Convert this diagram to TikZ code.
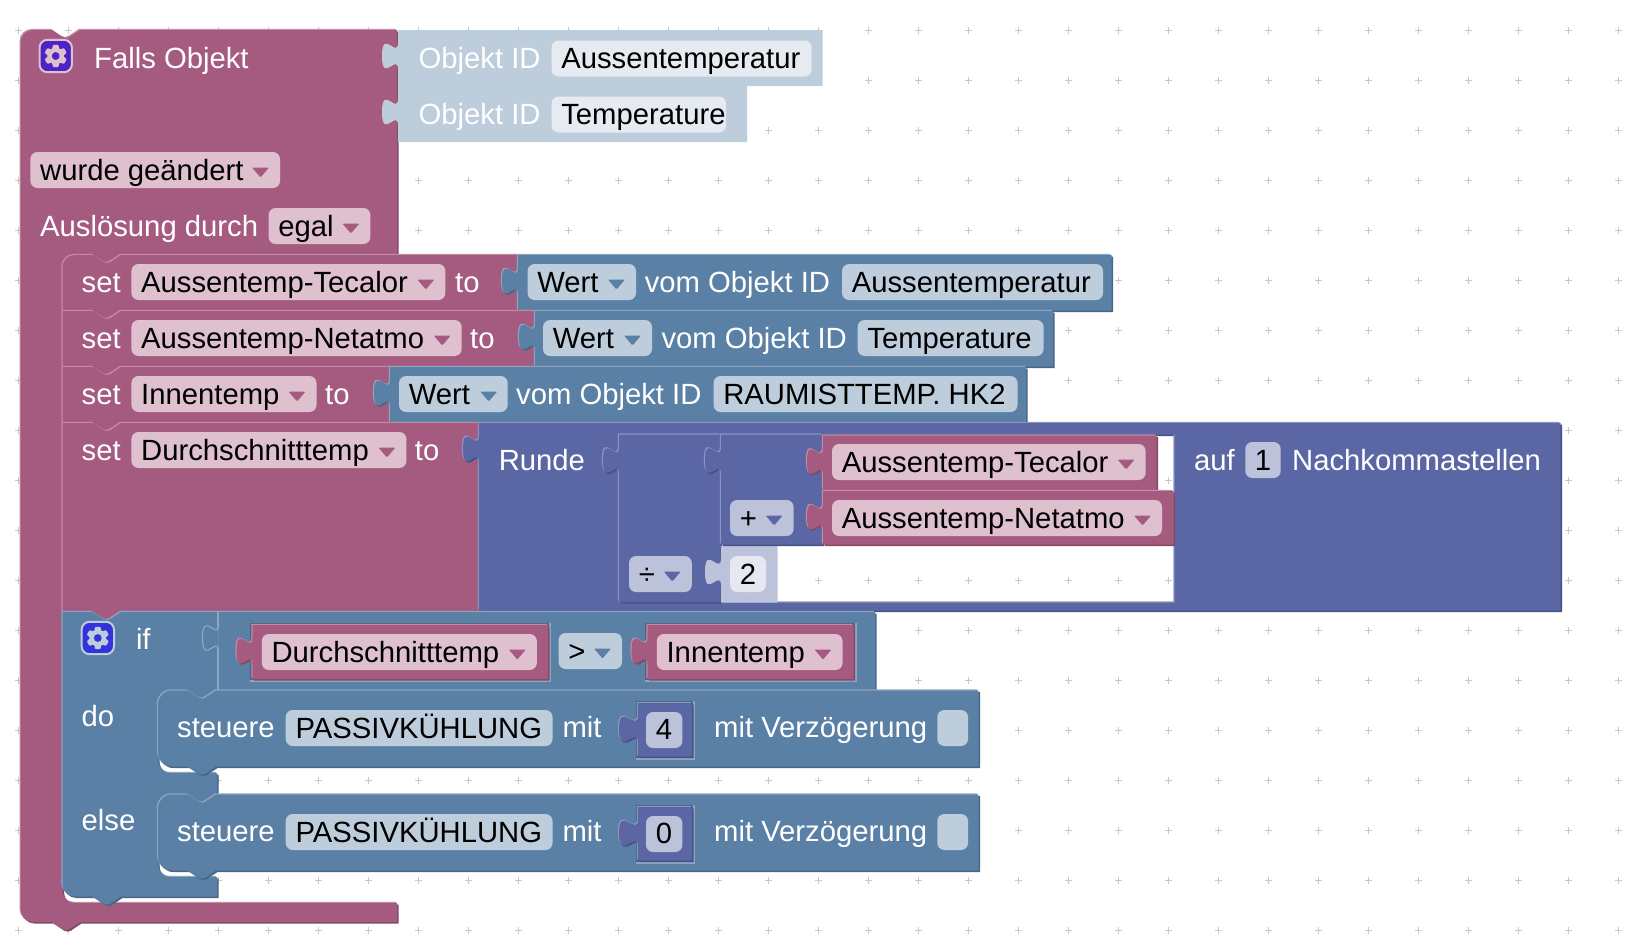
\documentclass[tikz,border=0pt]{standalone}
\usepackage{fontspec}
\setmainfont{Liberation Sans}
\definecolor{mar}{HTML}{A55B80}
\definecolor{marD}{HTML}{844966}
\definecolor{marL}{HTML}{C08CA6}
\definecolor{marF}{HTML}{DFC0CF}
\definecolor{blu}{HTML}{5B80A5}
\definecolor{bluD}{HTML}{496684}
\definecolor{bluL}{HTML}{8CA6C0}
\definecolor{bluF}{HTML}{BDCDDC}
\definecolor{bluS}{HTML}{E5EBF1}
\definecolor{ind}{HTML}{5B67A5}
\definecolor{indD}{HTML}{495284}
\definecolor{indL}{HTML}{8C95C0}
\definecolor{indF}{HTML}{BDC2DB}
\definecolor{indS}{HTML}{E5E7F1}
\definecolor{gridc}{HTML}{C8C8C8}
\definecolor{icA}{HTML}{4F22C8}
\definecolor{icB}{HTML}{3333DD}
\newcount\nn
\def\tw{16}
% top edge notch, going right, starting at x
\def\notchR#1#2{-- (#1,#2) -- ({#1+10.5},{#2+7}) .. controls ({#1+12.5},{#2+8.5}) and ({#1+15.5},{#2+8.5}) .. ({#1+17.5},{#2+7}) -- ({#1+28},#2)}
% same, going left
\def\notchL#1#2{-- ({#1+28},#2) -- ({#1+17.5},{#2+7}) .. controls ({#1+15.5},{#2+8.5}) and ({#1+12.5},{#2+8.5}) .. ({#1+10.5},{#2+7}) -- (#1,#2)}
% puzzle tab on a left edge, going up
\def\tabU#1#2{-- (#1,{#2+28}) .. controls (#1,{#2+9.3}) and ({#1-\tw},{#2+43}) .. ({#1-\tw},{#2+14}) .. controls ({#1-\tw},{#2-15}) and (#1,{#2+18.6}) .. (#1,#2)}
\def\blk#1#2{\fill[#1D,shift={(1.5,1.5)}] #2; \fill[#1L,shift={(-1.1,-1.1)}] #2; \fill[#1] #2;}
% value block: colour, x1, y1, x2, y2
\def\vblock#1#2#3#4#5{\blk{#1}{(#2,#3) -- (#4,#3) -- (#4,#5) -- (#2,#5) \tabU{#2}{#3+12} -- cycle}}
\def\sblock#1#2#3#4#5{\fill[#1] (#2,#3) -- (#4,#3) -- (#4,#5) -- (#2,#5) \tabU{#2}{#3+12} -- cycle;}
\def\hole#1#2#3#4#5{\fill[#1L] (#2,#3) rectangle ({#4+1},{#5+1}); \fill[#1D] (#2,#3) rectangle ({#4-1},{#5-1});}
\def\T#1#2#3{\global\advance\nn by 1 \node[txt,text=white,name=t\the\nn] at ({#1-0.8},{#2+0.5}) {#3};}
\def\B#1#2#3{\global\advance\nn by 1 \node[txt,text=black,name=t\the\nn] at ({#1-0.8},{#2+0.5}) {#3};}
% text field: fill, x1, y1, x2, text
\def\fld#1#2#3#4#5{\fill[#1,rounded corners=7] (#2,#3) rectangle (#4,{#3+36}); \B{#2+10.6}{#3+27.6}{#5}}
% dropdown field: fill, arrow colour, x1, y1, x2, text
\def\dd#1#2#3#4#5#6{\fld{#1}{#3}{#4}{#5}{#6}\fill[#2,rounded corners=1] ({#5-28},{#4+15.5}) -- ({#5-11},{#4+15.5}) -- ({#5-19.5},{#4+25.5}) -- cycle;}
\def\gear#1#2#3#4{\fill[#3,draw=#4,line width=2,rounded corners=8] ({#1-16.2},{#2-16.2}) rectangle ({#1+16.2},{#2+16.2});
 \foreach \a in {30,90,...,330} {\fill[#4,rotate around={\a:(#1,#2)},rounded corners=1] ({#1+6},{#2-3.6}) -- ({#1+11.2},{#2-2.8}) -- ({#1+11.2},{#2+2.8}) -- ({#1+6},{#2+3.6}) -- cycle;}
 \fill[#4] (#1,#2) circle (8.4); \fill[#3] (#1,#2) circle (3.9);}
\begin{document}
\begin{tikzpicture}[x=1pt,y=-1pt,
  txt/.style={anchor=base west,inner sep=0pt,outer sep=0pt,font=\fontsize{29.25}{32}\selectfont}]
\useasboundingbox (0,0) rectangle (1638,946);
\fill[white] (0,0) rectangle (1638,946);
% grid
\foreach \gx in {18.5,68.5,...,1620} \foreach \gy in {30.5,80.5,...,935} {
  \draw[gridc,line width=1.8] ({\gx-3.2},\gy) -- ({\gx+3.2},\gy) ({\gx},{\gy-3.2}) -- ({\gx},{\gy+3.2});}

% main trigger block
\blk{mar}{(33,30) \notchR{52}{30} -- (397,30) -- (397,255) \notchL{93}{255} -- (75,255)
  .. controls (68,255) and (62.5,260.5) .. (62.5,267) -- (62.5,891)
  .. controls (62.5,897.5) and (68,903) .. (75,903) -- (397,903) -- (397,922) \notchL{52}{922} -- (33,922)
  .. controls (26,922) and (20.7,916.5) .. (20.7,910) -- (20.7,42)
  .. controls (20.7,35.5) and (26,30) .. (33,30) -- cycle}
\gear{55.7}{56}{icA}{marF}
\T{95}{68}{Falls Objekt}
\dd{marF}{mar}{30.4}{152}{280}{wurde geändert}
\T{41}{236}{Auslösung durch}
\dd{marF}{mar}{268.6}{208}{370.4}{egal}
% Objekt ID shadows
\sblock{bluF}{398}{30}{822.5}{86}
\sblock{bluF}{398}{86}{747}{142}
\T{419.5}{68}{Objekt ID}
\T{419.5}{124}{Objekt ID}
\fld{bluS}{551.5}{40.5}{811.7}{Aussentemperatur}
\fld{bluS}{551.5}{96.5}{726}{Temperature}

% set 1
\blk{mar}{(75,255) \notchR{93}{255} -- (518,255) -- (518,311) \notchL{93}{311} -- (62.5,311) -- (62.5,267) .. controls (62.5,260.5) and (68,255) .. (75,255) -- cycle}
\T{82.5}{292}{set}
\dd{marF}{mar}{131.4}{264}{445.4}{Aussentemp-Tecalor}
\T{456}{292}{to}
\vblock{blu}{518}{255}{1111.5}{310.5}
\fld{bluF}{527.5}{264}{636}{Wert}
\fill[blu,rounded corners=1] (608,279.5) -- (625,279.5) -- (616.5,289.5) -- cycle;
\T{645.6}{292}{vom Objekt ID}
\fld{bluF}{842}{264}{1103}{Aussentemperatur}
% set 2
\blk{mar}{(62.5,311) \notchR{93}{311} -- (535,311) -- (535,367) \notchL{93}{367} -- (62.5,367) -- cycle}
\T{82.5}{348}{set}
\dd{marF}{mar}{131.4}{320}{461.7}{Aussentemp-Netatmo}
\T{471}{348}{to}
\vblock{blu}{535}{311}{1053}{366.5}
\fld{bluF}{543}{320}{652}{Wert}
\fill[blu,rounded corners=1] (624,335.5) -- (641,335.5) -- (632.5,345.5) -- cycle;
\T{662.3}{348}{vom Objekt ID}
\fld{bluF}{857.6}{320}{1043.6}{Temperature}
% set 3
\blk{mar}{(62.5,367) \notchR{93}{367} -- (390,367) -- (390,423) \notchL{93}{423} -- (62.5,423) -- cycle}
\T{82.5}{404}{set}
\dd{marF}{mar}{131.4}{376}{316.5}{Innentemp}
\T{326}{404}{to}
\vblock{blu}{390}{367}{1026}{422.5}
\fld{bluF}{399}{376}{507.7}{Wert}
\fill[blu,rounded corners=1] (480.2,391.5) -- (497.2,391.5) -- (488.7,401.5) -- cycle;
\T{517}{404}{vom Objekt ID}
\fld{bluF}{713.5}{376}{1017.5}{RAUMISTTEMP. HK2}
% set 4
\blk{mar}{(62.5,423) \notchR{93}{423} -- (479,423) -- (479,612) \notchL{93}{612} -- (62.5,612) -- cycle}
\T{82.5}{460}{set}
\dd{marF}{mar}{131.4}{432}{406.4}{Durchschnitttemp}
\T{415.7}{460}{to}
% Runde with hole
\begin{scope}[even odd rule]
\blk{ind}{(479,423) -- (1560.5,423) -- (1560.5,610.5) -- (479,610.5) \tabU{479}{435} -- cycle (619,434.5) -- (1174.5,434.5) -- (1174.5,602.5) -- (619,602.5) -- cycle}
\end{scope}
\T{499.6}{470}{Runde}
\T{1195}{470}{auf}
\fld{indF}{1245.3}{442}{1280.7}{}
\node[txt,anchor=base,text=black,name=one] at (1263,470) {1};
\T{1293}{470}{Nachkommastellen}
% division
\vblock{ind}{619}{434.5}{720.5}{602}
% number 2 shadow
\sblock{indF}{721}{546}{777.5}{602.5}
\fld{indS}{730}{556}{766}{}
\node[txt,anchor=base,text=black,name=two] at (748,584) {2};
\dd{indF}{ind}{629}{556}{691.8}{÷}
% plus
\vblock{ind}{721}{434.5}{822.5}{544.5}
\dd{indF}{ind}{730}{500}{793.6}{+}
% variables
\vblock{mar}{823}{435.5}{1156.6}{490}
\dd{marF}{mar}{832}{444}{1145.6}{Aussentemp-Tecalor}
\vblock{mar}{823}{491}{1173.5}{544.5}
\dd{marF}{mar}{832}{500}{1162}{Aussentemp-Netatmo}

% if / else
\blk{blu}{(62.5,612) \notchR{93}{612} -- (875,612) -- (875,690) \notchL{188}{690} -- (170,690)
  .. controls (163,690) and (158,695) .. (158,702) -- (158,759)
  .. controls (158,767) and (163,773) .. (171,773) -- (217,773) -- (217,794.5) \notchL{188}{794.5} -- (170,794.5)
  .. controls (163,794.5) and (158,799.5) .. (158,806.5) -- (158,864)
  .. controls (158,871) and (163,877) .. (171,877) -- (217,877) -- (217,896.5) \notchL{93}{896.5} -- (75,896.5)
  .. controls (68,896.5) and (62.5,891) .. (62.5,884.5) -- cycle}
\draw[bluL,line width=1.6] (218,612) -- (218,690);
\path[fill=blu] (218.5,624) .. controls (218.5,642.6) and (202.5,609) .. (202.5,638) .. controls (202.5,667) and (218.5,633.3) .. (218.5,652) -- cycle;
\draw[bluL,line width=1.2] (218.5,624) .. controls (218.5,642.6) and (202.5,609) .. (202.5,638) .. controls (202.5,667) and (218.5,633.3) .. (218.5,652);
\gear{97.8}{638}{icB}{bluF}
\T{136.8}{649}{if}
\T{82.5}{726}{do}
\T{82.5}{830}{else}
% compare
\hole{blu}{250}{623}{550}{681}
\hole{blu}{645}{623}{856}{681}
\vblock{mar}{252.5}{625}{548}{679}
\dd{marF}{mar}{261.8}{634}{536.8}{Durchschnitttemp}
\dd{bluF}{blu}{558.6}{633}{622}{>}
\vblock{mar}{647.5}{625}{853.5}{679}
\dd{marF}{mar}{656.8}{634}{842.5}{Innentemp}

% statement blocks
\foreach \dy/\val in {0/4,104/0} {
\begin{scope}[yshift={-\dy pt}]
\blk{blu}{(172,690.5) \notchR{188}{690.5} -- (978.5,690.5) -- (978.5,766.5) \notchL{188}{766.5} -- (172,766.5)
  .. controls (164,766.5) and (158,760.5) .. (158,752.5) -- (158,704.5)
  .. controls (158,696.5) and (164,690.5) .. (172,690.5) -- cycle}
\T{178}{737}{steuere}
\fld{bluF}{285.7}{710}{552.5}{PASSIVKÜHLUNG}
\T{563.3}{737}{mit}
\hole{blu}{636}{701}{694.3}{758.7}
\begin{scope}
\def\tw{19}
\vblock{ind}{638}{703}{692}{756.5}
\end{scope}
\fld{indF}{646}{712}{682.3}{}
\node[txt,anchor=base,text=black,name=num\dy] at (664,739.5) {\val};
\T{715}{737}{mit Verzögerung}
\fill[bluF,rounded corners=7] (937.3,710) rectangle (968,746);
\end{scope}}
\end{tikzpicture}
\end{document}
